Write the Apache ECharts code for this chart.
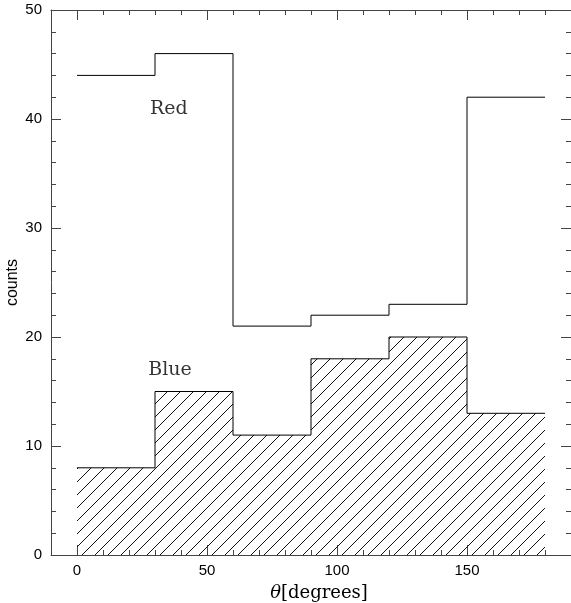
<!DOCTYPE html>
<html><head><meta charset="utf-8">
<script src="https://cdn.jsdelivr.net/npm/echarts@6/dist/echarts.min.js"></script>
<style>html,body{margin:0;padding:0;background:#fff}#c{width:571px;height:603px}</style>
</head><body><div id="c"></div>
<script>
const binEdges = [0, 30, 60, 90, 120, 150, 180];
const redCounts = [44, 46, 21, 22, 23, 42];
const blueCounts = [8, 15, 11, 18, 20, 13];
const xMajorTicks = [0, 50, 100, 150];
const labelTexts = [{name: 'Red', x: 35.3, y: 40.9}, {name: 'Blue', x: 35.8, y: 17}];

function stepData(counts) {
  return binEdges.map((e, i) => [e, counts[Math.min(i, counts.length - 1)]]);
}

function hatch() {
  const s = 13;
  const c = document.createElement('canvas');
  c.width = s; c.height = s;
  const g = c.getContext('2d');
  g.strokeStyle = '#111';
  g.lineWidth = 1;
  g.beginPath();
  g.moveTo(-1, s + 1); g.lineTo(s + 1, -1);
  g.moveTo(-3, 3); g.lineTo(3, -3);
  g.moveTo(s - 3, s + 3); g.lineTo(s + 3, s - 3);
  g.stroke();
  return c;
}

const axCol = '#444';
const grid = {left: 51, right: 0, top: 10, bottom: 48, containLabel: false, outerBoundsMode: 'none'};
const serif = '"DejaVu Serif", serif';
const sans = '"Liberation Sans", Arial, sans-serif';
const line = {show: true, onZero: false, lineStyle: {color: axCol, width: 1}};
const noLine = {show: false, onZero: false};

const chart = echarts.init(document.getElementById('c'), null, {renderer: 'canvas'});
chart.setOption({
  animation: false,
  backgroundColor: '#fff',
  grid: [Object.assign({}, grid), Object.assign({}, grid)],
  xAxis: [
    {gridIndex: 0, type: 'value', min: -10, max: 190, interval: 10, position: 'bottom',
     axisLine: line,
     axisTick: {show: true, inside: true, length: 5, lineStyle: {color: axCol}},
     axisLabel: {show: false}, splitLine: {show: false},
     name: '{i|θ}[degrees]', nameLocation: 'middle', nameGap: 29, nameMoveOverlap: false,
     nameTextStyle: {fontFamily: serif, fontSize: 18, color: '#000', padding: [0, 0, 0, 16],
       rich: {i: {fontFamily: serif, fontStyle: 'italic', fontSize: 18, color: '#000'}}}},
    {gridIndex: 0, type: 'value', min: -10, max: 190, interval: 10, position: 'top',
     axisLine: line,
     axisTick: {show: true, inside: true, length: 5, lineStyle: {color: axCol}},
     axisLabel: {show: false}, splitLine: {show: false}},
    {gridIndex: 1, type: 'value', min: -10, max: 190, position: 'bottom',
     axisLine: noLine,
     axisTick: {show: true, inside: true, length: 10, customValues: xMajorTicks, lineStyle: {color: axCol}},
     axisLabel: {show: true, customValues: xMajorTicks, margin: 8, fontFamily: sans, fontSize: 15, color: '#000'},
     splitLine: {show: false}},
    {gridIndex: 1, type: 'value', min: -10, max: 190, position: 'top',
     axisLine: noLine,
     axisTick: {show: true, inside: true, length: 10, customValues: xMajorTicks, lineStyle: {color: axCol}},
     axisLabel: {show: false}, splitLine: {show: false}}
  ],
  yAxis: [
    {gridIndex: 0, type: 'value', min: 0, max: 50, interval: 10, position: 'left',
     axisLine: line,
     axisTick: {show: true, inside: true, length: 10, lineStyle: {color: axCol}},
     minorTick: {show: true, splitNumber: 5, length: 5, lineStyle: {color: axCol}},
     axisLabel: {margin: 9, fontFamily: sans, fontSize: 15, color: '#000'},
     splitLine: {show: false},
     name: 'counts', nameLocation: 'middle', nameGap: 30, nameRotate: 90, nameMoveOverlap: false,
     nameTextStyle: {fontFamily: sans, fontSize: 16, color: '#000'}},
    {gridIndex: 0, type: 'value', min: 0, max: 50, interval: 10, position: 'right',
     axisLine: line,
     axisTick: {show: true, inside: true, length: 10, lineStyle: {color: axCol}},
     minorTick: {show: true, splitNumber: 5, length: 5, lineStyle: {color: axCol}},
     axisLabel: {show: false}, splitLine: {show: false}},
    {gridIndex: 1, type: 'value', min: 0, max: 50, show: false, axisLine: noLine}
  ],
  series: [
    {type: 'line', xAxisIndex: 0, yAxisIndex: 0, step: 'end', data: stepData(blueCounts),
     symbol: 'none', lineStyle: {color: '#000', width: 1},
     areaStyle: {color: {image: hatch(), repeat: 'repeat'}, opacity: 1}, z: 2},
    {type: 'line', xAxisIndex: 0, yAxisIndex: 0, step: 'end', data: stepData(redCounts),
     symbol: 'none', lineStyle: {color: '#000', width: 1}, z: 3},
    {type: 'scatter', xAxisIndex: 0, yAxisIndex: 0, symbolSize: 0,
     data: labelTexts.map(t => ({name: t.name, value: [t.x, t.y]})),
     label: {show: true, position: 'inside', formatter: '{b}', fontFamily: serif, fontSize: 19, color: '#000'},
     silent: true, z: 4}
  ]
});
</script></body></html>
